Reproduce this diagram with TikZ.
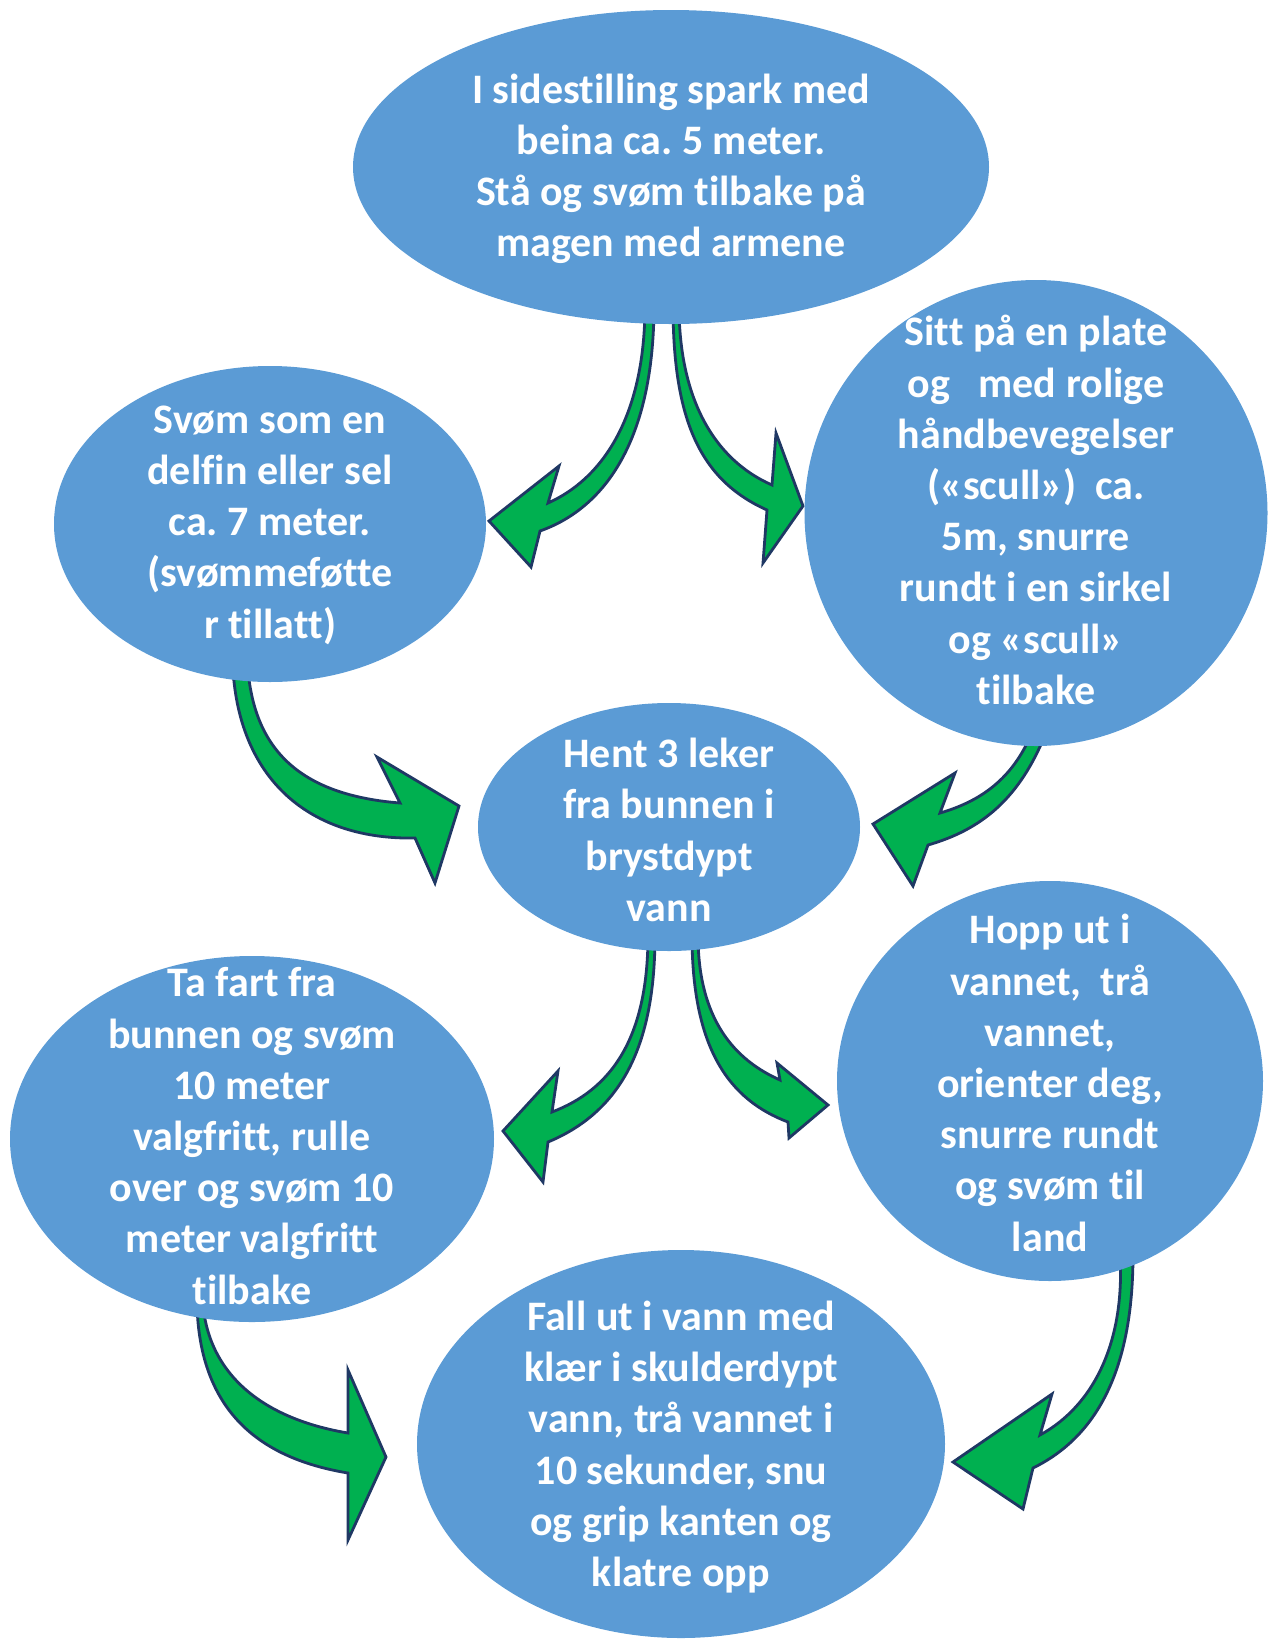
\documentclass[tikz,border=0pt]{standalone}
\usepackage{fontspec}
\setmainfont[Ligatures={NoCommon}]{Carlito}
\frenchspacing
\definecolor{ellblue}{HTML}{5B9BD5}
\definecolor{arrgreen}{HTML}{00B050}
\definecolor{arrline}{HTML}{1F3864}
\begin{document}
\begin{tikzpicture}[x=0.5pt,y=-0.5pt,
  bubble/.style={fill=ellblue,draw=none},
  btext/.style={text=white,align=center,font=\fontsize{21}{25.6}\selectfont\bfseries,inner sep=0pt},
  garrow/.style={fill=arrgreen,draw=arrline,line width=1.4pt,line join=miter}]
\useasboundingbox (0,0) rectangle (1272,1639);
% arrows
\draw[garrow] (645,305) .. controls (645,420) and (600,480) .. (548,503) -- (559,466) -- (489,521) -- (531,567) -- (540,531) .. controls (605,508) and (654,440) .. (654,305) -- cycle;
\draw[garrow] (673,305) .. controls (673,420) and (700,480) .. (767,510) -- (763,563) -- (803,506) -- (776,433) -- (772,485) .. controls (715,460) and (679,400) .. (679,305) -- cycle;
\draw[garrow] (233,670) .. controls (240,780) and (310,840) .. (415,838) -- (435,883) -- (459,806) -- (377,757) -- (400,803) .. controls (300,795) and (255,750) .. (248,670) -- cycle;
\draw[garrow] (648,935) .. controls (648,1040) and (610,1090) .. (552,1112) -- (558,1071) -- (503,1131) -- (543,1182) -- (548,1142) .. controls (625,1110) and (655,1040) .. (655,935) -- cycle;
\draw[garrow] (692,935) .. controls (692,1050) and (730,1100) .. (788,1122) -- (789,1138) -- (828,1105) -- (777,1063) -- (780,1080) .. controls (735,1060) and (698,1020) .. (698,935) -- cycle;
\draw[garrow] (197,1305) .. controls (200,1420) and (270,1460) .. (348,1473) -- (348,1540) -- (386,1457) -- (348,1370) -- (348,1433) .. controls (270,1420) and (210,1380) .. (203,1305) -- cycle;
\draw[garrow] (1133,1255) .. controls (1133,1380) and (1090,1440) .. (1033,1468) -- (1023,1509) -- (953,1462) -- (1052,1394) -- (1040,1435) .. controls (1095,1405) and (1125,1340) .. (1120,1255) -- cycle;
\draw[garrow] (1047,730) .. controls (1020,800) and (980,830) .. (928,845) -- (913,886) -- (873,824) -- (955,773) -- (940,813) .. controls (985,800) and (1015,775) .. (1033,730) -- cycle;
% ellipses
\fill[bubble] (671,167) ellipse [x radius=318, y radius=157];
\fill[bubble] (270,524) ellipse [x radius=216, y radius=158];
\fill[bubble] (1036,513) ellipse [x radius=231.5, y radius=233];
\fill[bubble] (669,827) ellipse [x radius=191, y radius=124];
\fill[bubble] (252,1139) ellipse [x radius=242, y radius=183];
\fill[bubble] (1050,1081) ellipse [x radius=213, y radius=200];
\fill[bubble] (681,1444) ellipse [x radius=264, y radius=194];
% texts
\node[btext] (t1) at (671,169) {I sidestilling spark med\\beina ca. 5 meter.\\Stå og svøm tilbake på\\magen med armene};
\node[btext] (t2) at (270,525) {Svøm som en\\delfin eller sel\\ca. 7 meter.\\(svømmeføtte\\r tillatt)};
\node[btext] (t3) at (1036,510) {Sitt på en plate\\og\ \ \ med rolige\\håndbevegelser\\(«scull»)\ \ ca.\\5m, snurre\\rundt i en sirkel\\og «scull»\\tilbake};
\node[btext] (t4) at (669,830) {Hent 3 leker\\fra bunnen i\\brystdypt\\vann};
\node[btext] (t5) at (252,1136) {Ta fart fra\\bunnen og svøm\\10 meter\\valgfritt, rulle\\over og svøm 10\\meter valgfritt\\tilbake};
\node[btext] (t6) at (1050,1083) {Hopp ut i\\vannet,\ \ trå\\vannet,\\orienter deg,\\snurre rundt\\og svøm til\\land};
\node[btext] (t7) at (681,1447) {Fall ut i vann med\\klær i skulderdypt\\vann, trå vannet i\\10 sekunder, snu\\og grip kanten og\\klatre opp};
\end{tikzpicture}
\end{document}
